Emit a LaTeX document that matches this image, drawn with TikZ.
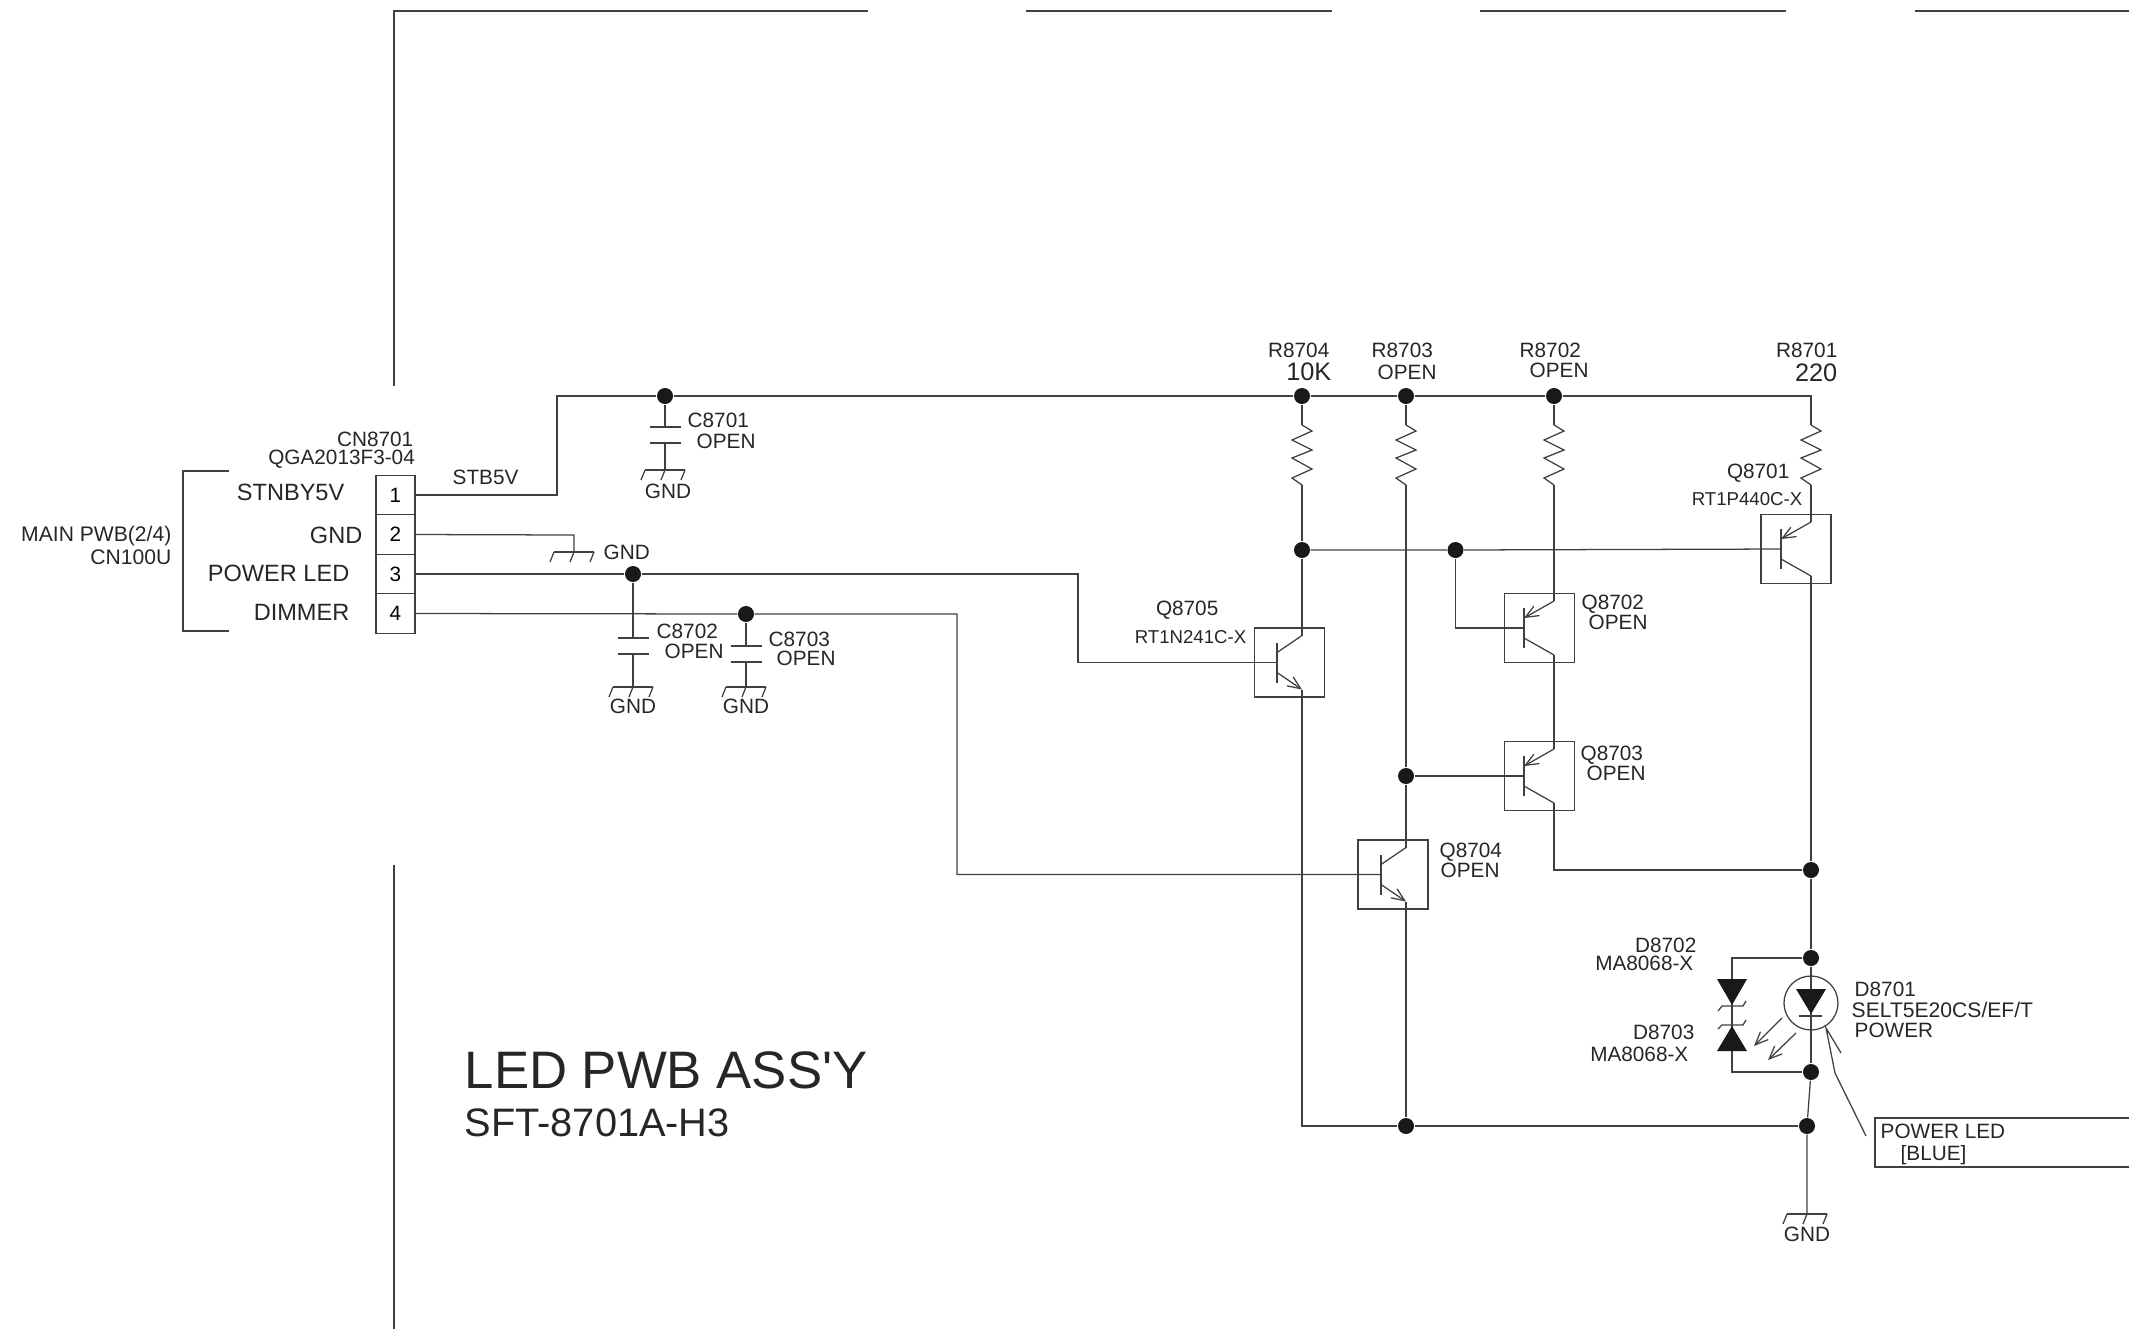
\documentclass[tikz,border=0pt]{standalone}
\usepackage{fontspec}
\setmainfont{Liberation Sans}
\newfontfamily\titlefont{Liberation Sans}
\usetikzlibrary{arrows}
\tikzstyle{wire} = [draw=black!75,line width=0.36pt]
\tikzstyle{dot} = [circle,fill=black!90,inner sep=0pt,minimum size=0.16cm]
\tikzstyle{tbox} = [draw=black!75,line width=0.36pt,minimum width=0.70cm,minimum height=0.69cm,inner sep=0pt]
\tikzstyle{pinbox} = [draw=black!75,line width=0.36pt,minimum width=0.39cm,minimum height=0.395cm,inner sep=0pt,font=\fontsize{5.9pt}{6pt}\selectfont]
\tikzstyle{txt} = [inner sep=0pt,text=black!85,font=\fontsize{5.9pt}{6pt}\selectfont]
\tikzstyle{pintxt} = [txt,font=\fontsize{6.7pt}{7pt}\selectfont]
\tikzstyle{parttxt} = [txt,font=\fontsize{5.3pt}{6pt}\selectfont]
\tikzstyle{valtxt} = [txt,font=\fontsize{7.2pt}{8pt}\selectfont]
\begin{document}
\begin{tikzpicture}[x=0.01cm,y=-0.01cm,>=angle 45]
    \useasboundingbox (0,0) rectangle (2129,1329);
    % sheet frame
    \draw[wire] (394,386) -- (394,11) -- (868,11);
    \draw[wire] (1026,11) -- (1332,11);
    \draw[wire] (1480,11) -- (1786,11);
    \draw[wire] (1915,11) -- (2129,11);
    \draw[wire] (394,865) -- (394,1329);
    % connector
    \draw[wire] (229,471) -- (183,471) -- (183,631) -- (229,631);
    \foreach \n/\y in {1/495,2/534.5,3/574,4/613.5}
        \node[pinbox] (pin\n) at (395.5,\y) {\n};
    \node[txt,anchor=east] (cnname) at (414,439) {CN8701};
    \node[txt,anchor=east] (cnpart) at (415.5,459) {QGA2013F3-04};
    \node[pintxt,anchor=east] (lblstnby) at (345,492) {STNBY5V};
    \node[pintxt,anchor=east] (lblgnd) at (363,535) {GND};
    \node[pintxt,anchor=east] (lblpower) at (350,573) {POWER LED};
    \node[pintxt,anchor=east] (lbldimmer) at (350,612) {DIMMER};
    \node[txt,anchor=east,font=\fontsize{6.0pt}{7pt}\selectfont] (lblmain) at (172,536) {MAIN PWB(2/4)};
    \node[txt,anchor=east,font=\fontsize{6.0pt}{7pt}\selectfont] (lblcn) at (172,557) {CN100U};
    \node[txt,anchor=west] (lblstb) at (452,477) {STB5V};
    % junctions
    \node[dot] (dotc1) at (665,396) {};
    \node[dot] (dotr4) at (1302,396) {};
    \node[dot] (dotr3) at (1406,396) {};
    \node[dot] (dotr2) at (1554,396) {};
    \node[dot] (dotq1) at (1302,550) {};
    \node[dot] (dotq2) at (1455.5,550) {};
    \node[dot] (dotq3) at (1406,776) {};
    \node[dot] (dotc2) at (633,574) {};
    \node[dot] (dotc3) at (746,614) {};
    \node[dot] (dotout) at (1811,870) {};
    \node[dot] (dotda) at (1811,958) {};
    \node[dot] (dotdb) at (1811,1072) {};
    \node[dot] (dotret) at (1807,1126) {};
    \node[dot] (dotretq) at (1406,1126) {};
    % resistors
    \foreach \name/\x in {r8704/1302,r8703/1406,r8702/1554,r8701/1811} {
        \coordinate (\name-a) at (\x,425);
        \coordinate (\name-b) at (\x,485);
        \draw[wire] (\name-a) -- (\x+10,431) -- (\x-10,440) -- (\x+10,450) -- (\x-10,458)
          -- (\x+10,469) -- (\x-10,478) -- (\name-b);
    }
    % transistors
    \foreach \name/\x/\y/\bx/\lx in {q8701/1796/549/1781/1811,q8702/1539.5/628/1524/1554,
        q8703/1539.5/776/1524/1554,q8705/1289.5/662.5/1277/1302,q8704/1393/874.5/1381/1406} {
        \node[tbox] (\name) at (\x,\y) {};
        \coordinate (\name-b) at (\bx,\y);
        \coordinate (\name-t) at (\lx,\y-27);
        \coordinate (\name-e) at (\lx,\y+27);
        \draw[wire] (\bx,\y-20) -- (\bx,\y+20);
    }
    \foreach \name/\bx/\y in {q8701/1781/549,q8702/1524/628,q8703/1524/776} {
        \draw[wire,->] (\name-t) -- (\bx,\y-10);
        \draw[wire] (\bx,\y+10) -- (\name-e);
    }
    \foreach \name/\bx/\y in {q8705/1277/662.5,q8704/1381/874.5} {
        \draw[wire] (\bx,\y-10) -- (\name-t);
        \draw[wire,->] (\bx,\y+10) -- (\name-e);
    }
    % capacitors
    \foreach \name/\x/\ya/\yb in {c8701/665/427/443,c8702/633/638/654,c8703/746/646/662} {
        \coordinate (\name-a) at (\x,\ya);
        \coordinate (\name-b) at (\x,\yb);
        \draw[wire] (\x-15.5,\ya) -- (\x+15.5,\ya);
        \draw[wire] (\x-15.5,\yb) -- (\x+15.5,\yb);
    }
    % grounds
    \foreach \name/\x/\y in {gndc1/665/470,gndc2/633/687,gndc3/746/687,gndpin/574/552,gndout/1807/1214} {
        \coordinate (\name) at (\x,\y);
        \draw[wire] (\x-20,\y) -- (\x+20,\y);
        \draw[wire] (\x-20,\y) -- (\x-24,\y+10);
        \draw[wire] (\x,\y) -- (\x-4,\y+10);
        \draw[wire] (\x+20,\y) -- (\x+16,\y+10);
    }
    % wiring
    \coordinate (stbbend) at (557,396);
    \coordinate (railend) at (1811,396);
    \coordinate (pinbend) at (574,535);
    \coordinate (powerbend) at (1078,574);
    \coordinate (dimbend) at (957,614);
    \coordinate (retleft) at (1302,1126);
    \coordinate (lowbend) at (1554,870);
    \coordinate (zenta) at (1732,958);
    \coordinate (zentb) at (1732,1072);
    \draw[wire] (pin1.east) -| (stbbend) -- (dotc1) -- (dotr4) -- (dotr3) -- (dotr2) -- (railend) -- (r8701-a);
    \draw[wire] (pin2.east) -- (pinbend) -- (gndpin);
    \draw[wire] (pin3.east) -- (dotc2) -- (powerbend) |- (q8705-b);
    \draw[wire] (pin4.east) -- (dotc3) -- (dimbend) |- (q8704-b);
    \draw[wire] (dotc1) -- (c8701-a);
    \draw[wire] (c8701-b) -- (gndc1);
    \draw[wire] (dotc2) -- (c8702-a);
    \draw[wire] (c8702-b) -- (gndc2);
    \draw[wire] (dotc3) -- (c8703-a);
    \draw[wire] (c8703-b) -- (gndc3);
    \draw[wire] (dotr4) -- (r8704-a);
    \draw[wire] (r8704-b) -- (dotq1) -- (q8705-t);
    \draw[wire] (q8705-e) -- (retleft) -- (dotretq) -- (dotret);
    \draw[wire] (dotr3) -- (r8703-a);
    \draw[wire] (r8703-b) -- (dotq3) -- (q8704-t);
    \draw[wire] (q8704-e) -- (dotretq);
    \draw[wire] (dotr2) -- (r8702-a);
    \draw[wire] (r8702-b) -- (q8702-t);
    \draw[wire] (q8702-e) -- (q8703-t);
    \draw[wire] (q8703-e) -- (lowbend) -- (dotout);
    \draw[wire] (r8701-b) -- (q8701-t);
    \draw[wire] (q8701-e) -- (dotout) -- (dotda) -- (dotdb);
    \draw[wire] (dotdb) -- (dotret) -- (gndout);
    \draw[wire] (dotq1) -- (dotq2) -- (q8701-b);
    \draw[wire] (dotq2) |- (q8702-b);
    \draw[wire] (dotq3) -- (q8703-b);
    \draw[wire] (dotda) -- (zenta) -- (zentb) -- (dotdb);
    % diodes
    \node[circle,draw=black!75,line width=0.36pt,minimum size=0.54cm,inner sep=0pt] (d8701) at (1811,1003) {};
    \fill[black!90] (1796,989) -- (1826,989) -- (1811,1014) -- cycle;
    \draw[wire] (1799,1016) -- (1822,1016);
    \fill[black!90] (1717,979) -- (1747,979) -- (1732,1005) -- cycle;
    \draw[wire] (1718,1011) -- (1722,1006) -- (1743,1006) -- (1746,1001);
    \fill[black!90] (1717,1051) -- (1747,1051) -- (1732,1026) -- cycle;
    \draw[wire] (1718,1029) -- (1722,1025) -- (1743,1025) -- (1746,1020);
    \draw[wire,->] (1782,1018) -- (1754,1046);
    \draw[wire,->] (1796,1033) -- (1768,1060);
    % led callout
    \draw[wire] (1841,1053) -- (1826,1028) -- (1835,1073) -- (1866,1136);
    \draw[wire] (2129,1118) -- (1875,1118) -- (1875,1167) -- (2129,1167);
    \node[txt,anchor=west] (lblled) at (1880,1131) {POWER LED};
    \node[txt,anchor=west] (lblblue) at (1900,1155) {[BLUE]};
    % part labels
    \node[txt,anchor=east] (lblr4) at (1330,350) {R8704};
    \node[valtxt,anchor=east] (valr4) at (1332,372) {10K};
    \node[txt,anchor=west] (lblr3) at (1371,350) {R8703};
    \node[txt,anchor=west] (valr3) at (1377,372) {OPEN};
    \node[txt,anchor=west] (lblr2) at (1519,350) {R8702};
    \node[txt,anchor=west] (valr2) at (1529,370) {OPEN};
    \node[txt,anchor=east] (lblr1) at (1838,350) {R8701};
    \node[valtxt,anchor=east] (valr1) at (1838,373) {220};
    \node[txt,anchor=east] (lblq1) at (1790,473) {Q8701};
    \node[parttxt,anchor=east] (valq1) at (1803,499) {RT1P440C-X};
    \node[txt,anchor=west] (lblq2) at (1581,604) {Q8702};
    \node[txt,anchor=west] (valq2) at (1588,622) {OPEN};
    \node[txt,anchor=west] (lblq3) at (1580,755) {Q8703};
    \node[txt,anchor=west] (valq3) at (1586,773) {OPEN};
    \node[txt,anchor=west] (lblq4) at (1439,852) {Q8704};
    \node[txt,anchor=west] (valq4) at (1440,870) {OPEN};
    \node[txt,anchor=east] (lblq5) at (1219,610) {Q8705};
    \node[parttxt,anchor=east] (valq5) at (1247,637) {RT1N241C-X};
    \node[txt,anchor=west] (lblc1) at (687,420) {C8701};
    \node[txt,anchor=west] (valc1) at (696,441) {OPEN};
    \node[txt,anchor=west] (lblc2) at (656,631) {C8702};
    \node[txt,anchor=west] (valc2) at (664,651) {OPEN};
    \node[txt,anchor=west] (lblc3) at (768,639) {C8703};
    \node[txt,anchor=west] (valc3) at (776,658) {OPEN};
    \node[txt] (txtgndc1) at (668,491) {GND};
    \node[txt] (txtgndc2) at (633,706) {GND};
    \node[txt] (txtgndc3) at (746,706) {GND};
    \node[txt,anchor=west] (txtgndpin) at (603,552) {GND};
    \node[txt] (txtgndout) at (1807,1234) {GND};
    \node[txt,anchor=east] (lbld2) at (1697,945) {D8702};
    \node[txt,anchor=east] (vald2) at (1694,963) {MA8068-X};
    \node[txt,anchor=east] (lbld3) at (1695,1032) {D8703};
    \node[txt,anchor=east] (vald3) at (1689,1054) {MA8068-X};
    \node[txt,anchor=west] (lbld1) at (1854,989) {D8701};
    \node[txt,anchor=west,font=\fontsize{6pt}{6pt}\selectfont] (vald1) at (1851,1010) {SELT5E20CS/EF/T};
    \node[txt,anchor=west] (usedi) at (1854,1030) {POWER};
    % title
    \node[txt,anchor=west,font=\fontsize{15pt}{16pt}\selectfont\titlefont] (title) at (464,1070) {LED PWB ASS'Y};
    \node[txt,anchor=west,font=\fontsize{11.3pt}{12pt}\selectfont] (subtitle) at (464,1123) {SFT-8701A-H3};
\end{tikzpicture}
\end{document}
